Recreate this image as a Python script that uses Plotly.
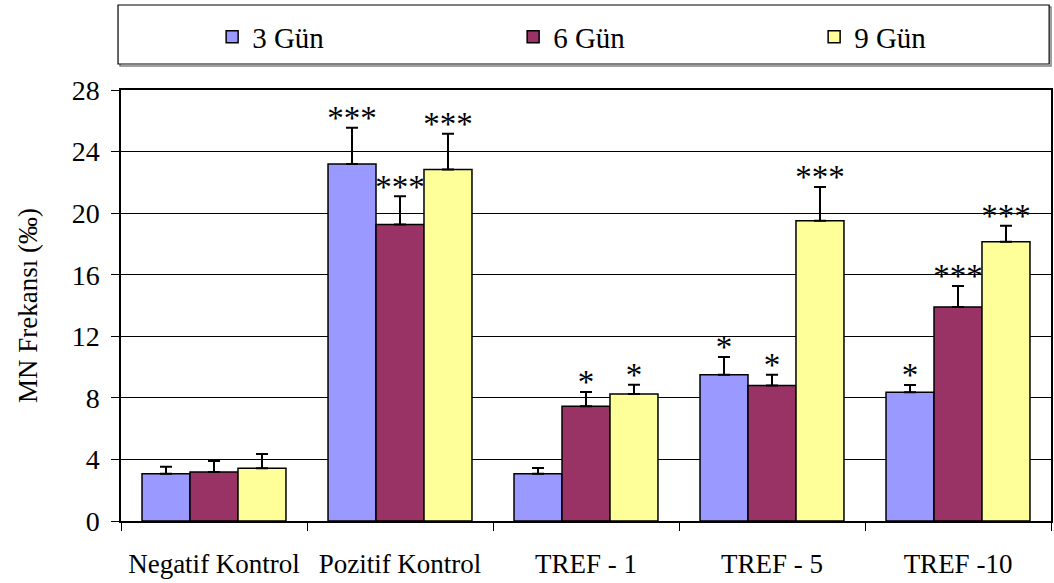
import plotly.graph_objects as go

categories = ["Negatif Kontrol", "Pozitif Kontrol", "TREF - 1", "TREF - 5", "TREF -10"]
series_names = ["3 Gün", "6 Gün", "9 Gün"]
g3 = [3.07, 23.2, 3.07, 9.5, 8.36]
g3_err = [0.46, 2.35, 0.37, 1.15, 0.47]
g6 = [3.18, 19.27, 7.45, 8.81, 13.9]
g6_err = [0.72, 1.83, 0.93, 0.69, 1.36]
g9 = [3.42, 22.84, 8.25, 19.5, 18.14]
g9_err = [0.93, 2.31, 0.6, 2.2, 1.04]
stars3 = ["", "***", "", "*", "*"]
stars6 = ["", "***", "*", "*", "***"]
stars9 = ["", "***", "*", "***", "***"]
y_ticks = [0, 4, 8, 12, 16, 20, 24, 28]
y_range = [0, 28]

colors = ["#9999FF", "#993366", "#FFFF99"]
FONT = "Liberation Serif, Times New Roman, serif"

fig = go.Figure()
values = [g3, g6, g9]
errs = [g3_err, g6_err, g9_err]
stars = [stars3, stars6, stars9]

for i in range(3):
    fig.add_trace(go.Bar(
        x=categories, y=values[i], name=series_names[i],
        marker=dict(color=colors[i], line=dict(color="black", width=1.5)),
        error_y=dict(type="data", symmetric=False, array=errs[i],
                     arrayminus=[0] * len(categories),
                     color="black", thickness=2, width=6),
        offsetgroup=str(i),
    ))

# significance stars on an overlaid axis nudged slightly so they sit just above the caps
for i in range(3):
    fig.add_trace(go.Scatter(
        x=categories, y=[v + e for v, e in zip(values[i], errs[i])],
        text=stars[i], mode="text", textposition="middle center",
        textfont=dict(family=FONT, size=33, color="black"),
        showlegend=False, hoverinfo="skip", cliponaxis=False,
        offsetgroup=str(i), yaxis="y2",
    ))

fig.update_layout(
    width=1054, height=583,
    margin=dict(l=121, r=3, t=90, b=62, autoexpand=False),
    paper_bgcolor="white", plot_bgcolor="white",
    barmode="group", bargap=0.226, bargroupgap=0,
    scattermode="group", scattergap=0.226,
    font=dict(family=FONT, size=28, color="black"),
    showlegend=True,
    legend=dict(orientation="h", x=0.098, xanchor="left", y=1.123, yanchor="middle",
                bgcolor="rgba(0,0,0,0)", borderwidth=0,
                entrywidth=256, entrywidthmode="pixels",
                font=dict(family=FONT, size=29, color="black")),
    xaxis=dict(showline=True, linecolor="black", linewidth=1.5, mirror=True,
               ticks="outside", tickson="boundaries", ticklen=8, tickcolor="black",
               ticklabelstandoff=18, tickfont=dict(family=FONT, size=27)),
    yaxis=dict(range=y_range, tickvals=y_ticks, showline=True, linecolor="black",
               linewidth=1.5, mirror=True, ticks="outside", ticklen=8, tickcolor="black",
               showgrid=True, gridcolor="black", gridwidth=1, zeroline=False,
               tickfont=dict(family=FONT, size=28), ticklabelstandoff=6,
               title=dict(text="MN Frekansı (‰)", font=dict(family=FONT, size=27),
                          standoff=26)),
    yaxis2=dict(overlaying="y", range=[y_range[0] - 0.45, y_range[1] - 0.45],
                visible=False, showgrid=False, zeroline=False),
)

# legend box with shadow
fig.add_shape(type="rect", xref="paper", yref="paper",
              x0=-0.001, x1=1.0, y0=(521 - 66) / 431, y1=(521 - 7) / 431,
              line=dict(color="#808080", width=1.5), layer="below")
fig.add_shape(type="rect", xref="paper", yref="paper",
              x0=-0.0032, x1=0.998, y0=(521 - 64) / 431, y1=(521 - 5) / 431,
              line=dict(color="black", width=1.2), fillcolor="white", layer="below")

fig.write_html("out.html")
